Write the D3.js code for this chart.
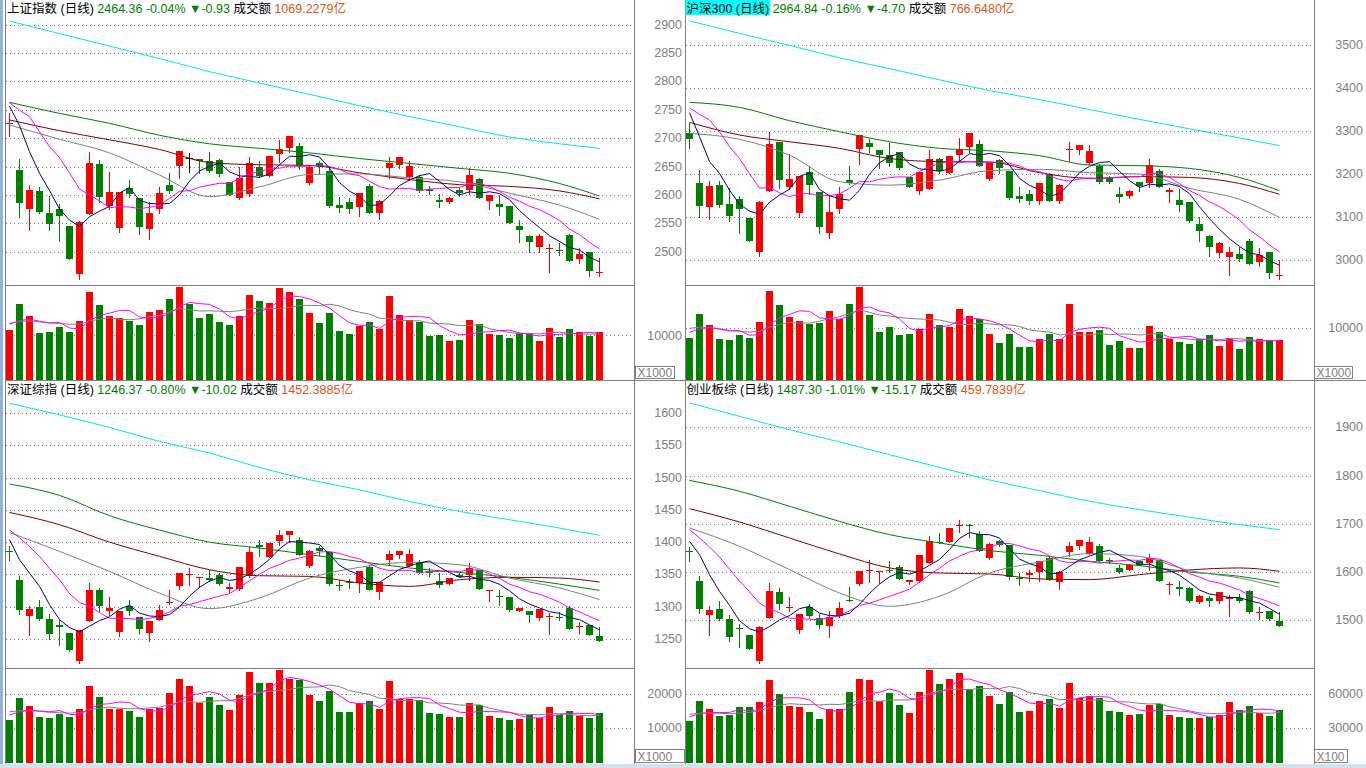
<!DOCTYPE html>
<html><head><meta charset="utf-8">
<script src="https://cdn.jsdelivr.net/npm/d3@7"></script>
<style>body{margin:0;background:#fff;overflow:hidden}svg{display:block}</style>
</head><body><svg id="c" width="1366" height="768"></svg>
<script>
// ---------------- DATA ----------------
const maIdx = [0,5,10,15,20,25,30,35,40,45,50,55,59];

// 上证指数  [open, high, low, close]
const shCandles = [
[2726,2743.5,2703.6,2726.5],[2643.8,2663,2561.6,2585],[2575,2617.4,2538,2608.6],[2606.8,2614.4,2567.5,2570.4],
[2567.5,2598,2538,2548],[2574.5,2583.9,2519.4,2563.4],[2545,2545,2486.5,2487.7],[2460.7,2554,2451.3,2552.8],
[2567,2676,2567,2656],[2654,2661,2588,2597],[2581,2641,2576,2605],[2542,2605.5,2534,2605],
[2611.5,2627,2597,2601],[2594,2595,2531,2544],[2540.5,2588,2522,2569],[2574.5,2614.4,2567.5,2602.7],
[2616.8,2639,2603.9,2606.8],[2651.4,2677,2630,2677],[2665.5,2673,2641,2665.5],[2662.6,2663,2638,2659],
[2660,2676,2641,2642.6],[2661.4,2662.6,2633.8,2636.7],[2622,2622,2599.8,2599.8],[2595,2649.6,2592,2629],
[2601.5,2666,2598,2655.5],[2649.6,2659.6,2632,2633],[2633.8,2668.4,2633.8,2668.4],[2671.4,2696.6,2658.5,2680],
[2683,2703.6,2676,2703.6],[2686,2690.7,2645,2652],[2621.5,2652.6,2619.7,2649.6],[2655.5,2659.6,2636.7,2648.5],
[2642,2646.7,2579,2581],[2582,2595.6,2570.4,2577.5],[2586.9,2594,2568.7,2575.7],[2578,2602.7,2563.4,2602.7],
[2615.6,2619,2569,2569],[2567.5,2591,2557,2589],[2647.9,2666,2630,2655.5],[2652.6,2666,2646.7,2666],
[2632,2660,2626,2651.4],[2632,2635,2604.5,2607.4],[2609.7,2615.6,2601,2607.4],[2591,2601,2578,2586.9],
[2588,2597,2585,2594],[2608.6,2613,2598,2603.9],[2608.6,2646.7,2601,2635],[2628,2629,2595,2595],
[2589.8,2599.8,2575,2599.8],[2584,2599.8,2564.6,2578],[2580.4,2580.4,2551,2551],[2545,2555.7,2517.6,2538],
[2527.6,2529,2500,2517.6],[2508.8,2530.5,2500,2528],[2505,2513.5,2464.8,2506],[2503,2515.8,2494,2501],
[2529,2532,2484,2484],[2486.5,2505.9,2480.6,2496],[2498.8,2498.8,2457,2465.29],[2463.5,2489.4,2457,2464.36]];
const shPrevClose = [2711,2726,2837,2808,2758,2755,2839,2760,2700];
const shVol = [11185,17001,14317,10514,10738,11856,10738,13198,19686,16778,14317,13869,13198,12304,15212,15659,18120,20804,17001,13869,
14764,12975,12304,14317,19015,17672,17225,20580,19686,18120,14988,12751,14988,10962,10290,12080,12975,11409,18791,14540,
13422,12975,9843,10067,8724,8948,13422,12527,10290,10067,9395,10514,10514,8724,11632,9619,11409,10738,9843,10738];
const shPrevVol = [12950,12880,12900,12860,12910,12800,12760,12790,12765];
const shMA20  = [2723,2698,2674,2635,2597,2614,2636,2637,2630,2623,2603,2582,2557];
const shMA60  = [2732,2713,2697,2680,2657,2653,2652,2639,2627,2618,2615,2607,2593];
const shMA120 = [2763,2743.5,2726,2705,2690,2682,2674,2664,2655.5,2646.7,2638,2620,2598];
const shMA250 = [2906,2884,2862,2840,2817,2797,2777,2757,2738,2720,2702,2690,2682];
const shTicks = [2500,2550,2600,2650,2700,2750,2800,2850,2900];
const shVolTicks = [10000];

// 沪深300
const hsCandles = [
[3296,3318,3260,3282],[3180,3209,3101,3126],[3124,3184,3096,3172],[3174,3184,3122.5,3129],
[3130,3167,3091.5,3103],[3142,3149,3063.6,3119],[3098,3098,3045,3045],[3019,3137,3010,3135],
[3161,3298,3161,3270],[3274,3274,3167,3185],[3170.5,3246.5,3166,3188],[3110,3195,3100,3195],
[3204.7,3218.6,3153.5,3175],[3158,3158,3063.6,3077.5],[3063.6,3149,3052,3111.6],[3117.8,3169,3108.5,3153.5],
[3186,3218.6,3176.7,3178],[3259,3290.7,3224,3290.7],[3271,3280.6,3252,3263.6],[3256,3256,3214.7,3245],
[3243.4,3271,3219,3224.8],[3251,3251,3211,3214.7],[3192,3192,3169,3169],[3161,3205,3153.5,3205],
[3165,3256,3165,3236],[3234,3238,3201.6,3207],[3203,3242,3203,3242],[3244,3284.5,3232.6,3257],
[3262,3294.6,3252,3294.6],[3269,3279,3219.4,3219.4],[3188,3227,3186,3227],[3232.6,3234,3201.6,3214.7],
[3207.8,3207.8,3141,3145],[3149,3169,3134,3142.6],[3153.5,3163,3129.5,3138],[3138,3178,3129.5,3178],
[3199,3203,3138,3138],[3138,3176,3133,3173.6],[3256.6,3273.6,3230,3258],[3256.6,3266.7,3245.7,3266.7],
[3226,3266.7,3223,3253.5],[3218.6,3223,3178,3182],[3190,3196,3178,3182],[3153.5,3169,3135.6,3145.7],
[3149.6,3163,3145,3160.5],[3182,3182,3161,3172.9],[3180,3235,3170.5,3221],[3207,3211,3169,3169],
[3159,3166.7,3135.6,3162.8],[3139.5,3164,3114.7,3128],[3135.7,3135.7,3089,3090.7],[3083.7,3099,3045,3068],
[3055.8,3057,3010,3031],[3017,3041.9,3007.7,3038.8],[3007.7,3031,2965,3017.8],[3014,3031,2998.5,3002.3],
[3045,3048,2990.7,2990.7],[2996,3027,2986,3011.6],[3018.6,3018.6,2958,2969.54],[2963.6,3000,2955,2964.84]];
const hsPrevClose = [3278,3304,3405,3447,3393,3404,3463.5,3264.5,3299];
const hsVol = [8094,12683,10580,7839,7648,8604,8094,11153,17080,14404,12046,11344,10771,10962,13256,11727,14595,17845,12492,9178,
10134,8667,8859,9815,12683,10516,10197,13639,12300,11663,8859,7074,8859,6373,6373,7903,8859,7839,14595,9241,
9241,9560,6755,7520,6182,6182,10388,9241,7903,7329,6947,7839,8667,6564,8094,5990,8285,7903,7648,7584];
const hsPrevVol = [10700,10600,10680,10620,10650,9400,9350,9390,9366];
const hsMA20  = [3294.6,3280.6,3244,3182,3174,3186,3207.8,3211,3203,3200,3166.7,3141,3099];
const hsMA60  = [3320,3290.7,3275,3259.7,3236,3228.7,3228,3203,3190,3194,3192,3178,3152.7];
const hsMA120 = [3366.7,3355,3324,3298.4,3275,3259.7,3254,3242.6,3221,3219.4,3213,3192,3161];
const hsMA250 = [3556,3527,3499,3470,3445,3419,3394,3373,3350,3327,3305,3284,3266];
const hsTicks = [3000,3100,3200,3300,3400,3500];
const hsVolTicks = [10000];

// 深证综指
const szCandles = [
[1387,1393.4,1372.8,1384.7],[1341.8,1347,1288.7,1295.4],[1286,1301.6,1255.7,1296.4],[1299,1309.9,1280,1281.5],
[1281,1289,1250.5,1258.3],[1271,1280,1241,1268.6],[1259.3,1259.3,1232,1233.5],[1216.5,1264.5,1212.8,1263.4],
[1277.3,1336.7,1277.3,1325.3],[1326.4,1329,1293.9,1301.6],[1293.9,1315,1287.7,1298],[1260.8,1292.8,1255,1292.8],
[1300.6,1311,1287.7,1292.8],[1284,1284,1259.3,1266],[1259.3,1278.4,1246.4,1278.4],[1280,1302,1280,1294.4],
[1305.7,1325.3,1304.7,1307.3],[1331.5,1352,1327.4,1352],[1348.6,1360,1334,1350.6],[1344.4,1345.5,1330,1345.5],
[1344.4,1357.3,1340,1341.8],[1348.6,1352,1334,1335.7],[1328,1336.7,1322.8,1330],[1328,1361.5,1325.3,1361.5],
[1347,1392,1345.5,1384.7],[1396,1403.8,1378,1391.9],[1377,1399,1377,1399],[1401,1419,1396,1411.5],
[1410.5,1417.7,1400,1417.7],[1404,1407.4,1379.5,1379.5],[1363.5,1388.3,1361.5,1385.7],[1391,1393.4,1380.5,1387],
[1384.7,1384.7,1333,1335.7],[1334,1341.8,1326.4,1332],[1338.2,1342.9,1329,1336.7],[1336.7,1355.8,1322.8,1355.8],
[1361,1365,1326.4,1326.4],[1322.8,1338.2,1312.4,1338.2],[1372.8,1386.7,1365,1381.6],[1379.5,1387,1375.5,1387],
[1363.5,1389.3,1363.5,1381.6],[1370,1372.6,1352,1352],[1354.7,1360,1347,1352],[1340.3,1352,1330,1334],
[1335.7,1344.4,1335.7,1344.4],[1349.6,1352,1345.5,1345.5],[1349.6,1367.6,1341.8,1360],[1357.3,1357.3,1328,1328],
[1323.8,1325.3,1309.3,1325.3],[1316,1326.4,1303,1314.5],[1315,1315,1294,1295.4],[1292.8,1298,1292.8,1298],
[1292.8,1294,1275.8,1286.6],[1282.5,1296.4,1280,1296.4],[1283.5,1290,1257.7,1285],[1284.6,1291.3,1280,1282.5],
[1298,1300.6,1266,1266],[1268,1276.3,1259.3,1269.6],[1272.2,1272.2,1256,1256.39],[1254,1268,1246.37,1246.37]];
const szPrevClose = [1420,1430,1435,1440,1446,1450.4,1400.4,1384,1399.5];
const szVol = [12418,18831,16499,13292,13001,14254,13292,15624,22329,19122,15624,15624,15041,13292,15624,16003,20288,24369,22329,17373,
19122,16790,15333,19705,26410,23203,23203,26993,24369,24078,19705,17956,20871,14750,14750,17373,17956,15624,23786,18539,
18539,18248,14458,14167,13292,13292,17373,16790,13584,13001,12418,12709,13875,13001,16207,13875,15041,13584,13001,14458];
const szPrevVol = [15850,15760,15800,15770,15815,14260,14200,14250,14247];
const szMA20  = [1415,1385.7,1354.7,1321,1297,1313.5,1344.4,1361,1368.7,1365,1344.4,1329,1311];
const szMA60  = [1446,1427,1400,1378,1357.3,1348,1347,1336.7,1331.5,1341.8,1345.5,1344.4,1338.2];
const szMA120 = [1490,1472.4,1441,1418.7,1400,1390.9,1380.5,1370,1360,1353,1345.5,1335,1325.3];
const szMA250 = [1615,1597,1577.6,1556,1538,1515.7,1496.6,1481,1463,1447.6,1434.7,1421.8,1410.5];
const szTicks = [1250,1300,1350,1400,1450,1500,1550,1600];
const szVolTicks = [10000,20000];

// 创业板综
const cyCandles = [
[1643,1651.3,1623.7,1641],[1580.8,1591.2,1515.2,1524.2],[1511.7,1529,1470.3,1520.7],[1523.5,1539.4,1501.4,1503.5],
[1502.8,1511.7,1457.9,1465.5],[1484,1492.4,1444.7,1482],[1470.3,1470.3,1441.3,1441.3],[1416.4,1487.6,1411.6,1486.2],
[1504.8,1577.4,1504.8,1560],[1558.7,1567,1524.2,1533.9],[1525.6,1548.4,1518.7,1527.6],[1480.7,1513,1473.7,1513],
[1527,1533.9,1504.8,1509.7],[1504.8,1513.8,1484,1491],[1489,1518.7,1464.8,1507],[1509.7,1538,1507.7,1525.6],
[1542.8,1569,1540.8,1540.8],[1576,1601.6,1572.5,1601.6],[1601.6,1624.4,1578.8,1603.6],[1601.6,1603,1577.4,1603],
[1605,1622.3,1600.2,1601.6],[1610.5,1614,1586.4,1586.4],[1578.8,1584.3,1576,1584.3],[1582.2,1634.7,1579.4,1634.7],
[1618.8,1674,1618.8,1663.7],[1662.3,1681,1660.3,1660.3],[1661.7,1691.4,1661.7,1691.4],[1696.2,1707.3,1682.4,1698.3],
[1697,1700.3,1672,1694.8],[1679,1684.5,1644.4,1644.4],[1629,1660.3,1627.8,1658.2],[1663.7,1667.1,1653.4,1656.8],
[1656.8,1656.8,1586.4,1589],[1587.7,1598,1574,1585.7],[1594.6,1605,1582.2,1598],[1599.5,1623.7,1582.2,1623.7],
[1629,1632.6,1584.3,1584.3],[1578.8,1601.6,1565.6,1599.5],[1641,1661.7,1632.6,1653.4],[1653.4,1665.8,1648.5,1665.8],
[1637.5,1672,1637.5,1662.3],[1653.4,1658.2,1622.3,1622.3],[1625.7,1629,1618.8,1622.3],[1608.5,1614,1598,1600.2],
[1605,1616.8,1605,1615.4],[1623.7,1623.7,1614,1615.4],[1618.8,1637.5,1605,1629],[1625.7,1625.7,1580.8,1580.8],
[1574,1579.4,1555.3,1576],[1568.4,1580.8,1551.8,1565.6],[1567,1568.4,1538,1540.8],[1537.3,1551.8,1535.9,1549.7],
[1546.3,1549.7,1529,1540.8],[1539.4,1558,1536,1558],[1544.2,1553.2,1508.3,1547.7],[1546.3,1554.6,1538,1539.4],
[1560,1562.2,1515.2,1516.6],[1514.5,1527,1503.5,1516.6],[1518.7,1520,1501.4,1502.47],[1499.3,1517.3,1487.3,1487.3]];
const cyPrevClose = [1700,1705,1712,1718,1726.5,1662.7,1727.7,1676.5,1610.6];
const cyVol = [36383,53875,46879,40756,41631,48628,48628,53001,72242,59998,49502,48628,44255,38133,46879,46879,61747,73117,72242,53875,
60872,50377,43380,61747,80988,68744,73117,78364,64371,66994,58248,51252,61747,44255,45129,53875,55625,47753,69618,56499,
58248,56499,45129,44255,41631,42506,50377,51252,41631,39882,39007,39007,39882,41631,53001,46004,49502,43380,40756,46004];
const cyPrevVol = [44400,44250,44300,44380,44310,41100,41050,41120,41106];
const cyMA20  = [1691.4,1653.4,1605,1556.6,1529,1549.7,1598,1620.9,1638.2,1632.6,1603,1587.7,1568.4];
const cyMA60  = [1731.4,1703.8,1670.6,1637.5,1608.5,1598,1596,1585.7,1584.3,1594.6,1604.3,1608.5,1601.6];
const cyMA120 = [1790,1767.4,1736.3,1705,1677.5,1660.3,1644.4,1634.7,1622.3,1613.3,1600,1591.2,1577.4];
const cyMA250 = [1950.4,1922.8,1895,1869.6,1843.3,1817,1791,1768.7,1746.6,1729.4,1713.5,1698.3,1688];
const cyTicks = [1500,1600,1700,1800,1900];
const cyVolTicks = [30000,60000];

// titles
const shTitle = [["上证指数 (日线)","#000"],["2464.36 -0.04%","#008000"],["▼-0.93","#008000"],["成交额","#000"],["1069.2279亿","#e0561a"]];
const hsTitle = [["沪深300 (日线)","#000"],["2964.84 -0.16%","#008000"],["▼-4.70","#008000"],["成交额","#000"],["766.6480亿","#e0561a"]];
const szTitle = [["深证综指 (日线)","#000"],["1246.37 -0.80%","#008000"],["▼-10.02","#008000"],["成交额","#000"],["1452.3885亿","#e0561a"]];
const cyTitle = [["创业板综 (日线)","#000"],["1487.30 -1.01%","#008000"],["▼-15.17","#008000"],["成交额","#000"],["459.7839亿","#e0561a"]];

// ---------------- DRAW ----------------
const svg = d3.select('#c');
const FONT = '"Liberation Sans", Arial, "Noto Sans CJK SC", sans-serif';
const RED = '#ff0000', GREEN = '#008000', GRID = '#808080';
const COL = {ma5:'#000080', ma10:'#ff00ff', ma20:'#808080', ma60:'#800000', ma120:'#008000', ma250:'#00e4f2'};

function movAvg(prev, vals, n){
  const all = prev.concat(vals), k = prev.length;
  return vals.map((_, i) => d3.mean(all.slice(i + k - n + 1, i + k + 1)));
}

// frame
svg.append('rect').attr('x',0).attr('y',0).attr('width',1366).attr('height',768).attr('fill','#fff');
svg.append('rect').attr('x',0).attr('y',0).attr('width',3).attr('height',768).attr('fill','#93b3d9');
svg.append('rect').attr('x',0).attr('y',764).attr('width',1366).attr('height',4).attr('fill','#d6dfea');
const frame = svg.append('g').attr('stroke',GRID).attr('shape-rendering','crispEdges');
[5.5, 634.5, 685.5, 1314.5].forEach(xv => frame.append('line').attr('x1',xv).attr('x2',xv).attr('y1',0).attr('y2',764));
[[5,634,285.5],[685,1314,285.5],[5,1366,380.5],[5,634,668.5],[685,1314,668.5]].forEach(([a,b,yv]) =>
  frame.append('line').attr('x1',a).attr('x2',b).attr('y1',yv).attr('y2',yv));

function drawPanel(p){
  const g = svg.append('g');
  const x = d3.scaleLinear().domain([0,59]).range([p.cx0, p.cx0 + 590]);
  const t = p.ticks;
  const y = d3.scaleLinear().domain([t[0], t[t.length-1]]).range([p.yLo, p.yHi]);
  const yv = d3.scaleLinear().domain([0, p.volRef]).range([p.vBase, p.vRefY]);

  // grid
  const grid = g.append('g').attr('stroke',GRID).attr('stroke-dasharray','1,3').attr('shape-rendering','crispEdges');
  t.forEach(v => { const yy = Math.round(y(v)) + 0.5;
    grid.append('line').attr('x1',p.px0).attr('x2',p.px1).attr('y1',yy).attr('y2',yy); });
  p.volTicks.forEach(v => { const yy = Math.round(yv(v)) + 0.5;
    grid.append('line').attr('x1',p.px0).attr('x2',p.px1).attr('y1',yy).attr('y2',yy); });

  // axis labels
  const lab = g.append('g').attr('fill',GRID).attr('font-family',FONT).attr('font-size',12.5)
     .attr('text-anchor','end').attr('dominant-baseline','central');
  t.forEach(v => lab.append('text').attr('x',p.labX).attr('y',y(v)).text(v));
  p.volTicks.forEach(v => lab.append('text').attr('x',p.labX).attr('y',yv(v) + p.volLabDy).text(v));

  // unit box
  g.append('rect').attr('x',p.unit[0]).attr('y',p.unit[1]).attr('width',p.unit[2]).attr('height',p.unit[3])
    .attr('fill','#fff').attr('stroke',GRID).attr('shape-rendering','crispEdges');
  g.append('text').attr('x',p.unit[0] + 2).attr('y',p.unit[1] + p.unit[3] - 2).attr('fill',GRID)
    .attr('font-family',FONT).attr('font-size',12).text(p.unitText);

  // candles
  const cg = g.append('g').attr('shape-rendering','crispEdges');
  p.candles.forEach((d, i) => {
    const [o,h,l,c] = d;
    const col = c > o ? RED : (c < o ? GREEN : '#000');
    const cx = x(i);
    cg.append('line').attr('x1',cx).attr('x2',cx).attr('y1',Math.round(y(h))).attr('y2',Math.round(y(l)) + 1).attr('stroke',col);
    const yt = Math.round(y(Math.max(o,c))), yb = Math.round(y(Math.min(o,c)));
    cg.append('rect').attr('x',cx - 3.5).attr('y',yt).attr('width',7).attr('height',Math.max(1, yb - yt)).attr('fill',col);
  });

  // volume bars
  p.vol.forEach((v, i) => {
    const [o,,,c] = p.candles[i];
    const prevC = i > 0 ? p.candles[i-1][3] : p.prevClose[p.prevClose.length-1];
    const up = c > o || (c === o && c >= prevC);
    const yt = Math.round(yv(v));
    cg.append('rect').attr('x',x(i) - 3.5).attr('y',yt).attr('width',7).attr('height',Math.round(p.vBase) - yt)
      .attr('fill', up ? RED : GREEN);
  });

  // moving averages
  const closes = p.candles.map(d => d[3]);
  const lineI = d3.line().x((d,i) => x(i)).y(d => y(d));
  const lineS = d3.line().x((d,k) => x(maIdx[k])).y(d => y(d)).curve(d3.curveMonotoneX);
  const ml = g.append('g').attr('fill','none').attr('stroke-width',1);
  ml.append('path').attr('d',lineS(p.ma250)).attr('stroke',COL.ma250);
  ml.append('path').attr('d',lineS(p.ma120)).attr('stroke',COL.ma120);
  ml.append('path').attr('d',lineS(p.ma60)).attr('stroke',COL.ma60);
  ml.append('path').attr('d',lineS(p.ma20)).attr('stroke',COL.ma20);
  ml.append('path').attr('d',lineI(movAvg(p.prevClose, closes, 10))).attr('stroke',COL.ma10);
  ml.append('path').attr('d',lineI(movAvg(p.prevClose, closes, 5))).attr('stroke',COL.ma5);
  const lineV = d3.line().x((d,i) => x(i)).y(d => yv(d));
  ml.append('path').attr('d',lineV(movAvg(p.prevVol, p.vol, 10))).attr('stroke',GRID);
  ml.append('path').attr('d',lineV(movAvg(p.prevVol, p.vol, 5))).attr('stroke','#ff00ff');

  // title
  const tg = g.append('g');
  if (p.highlight) tg.append('rect').attr('class','hl').attr('fill','#00ffff');
  const tt = tg.append('text').attr('x',p.titleX).attr('y',p.titleY).attr('font-family',FONT).attr('font-size',12.5);
  p.title.forEach((s, k) => tt.append('tspan').attr('fill',s[1]).text((k ? ' ' : '') + s[0]));
  if (p.highlight) {
    const w = tt.select('tspan').node().getComputedTextLength();
    tg.select('rect.hl').attr('x',p.titleX - 1).attr('y',p.titleY - 12.5).attr('width',w + 2).attr('height',15);
  }
}

drawPanel({candles:shCandles, prevClose:shPrevClose, vol:shVol, prevVol:shPrevVol,
  ma20:shMA20, ma60:shMA60, ma120:shMA120, ma250:shMA250, ticks:shTicks, volTicks:shVolTicks, title:shTitle,
  cx0:9.5, px0:6, px1:634, yLo:251.7, yHi:24.5, volRef:10000, vBase:380, vRefY:335.3, labX:682, volLabDy:1,
  unit:[635.5,366.5,39,12], unitText:'X1000', titleX:7, titleY:12.5});
drawPanel({candles:hsCandles, prevClose:hsPrevClose, vol:hsVol, prevVol:hsPrevVol,
  ma20:hsMA20, ma60:hsMA60, ma120:hsMA120, ma250:hsMA250, ticks:hsTicks, volTicks:hsVolTicks, title:hsTitle,
  cx0:689.5, px0:686, px1:1314, yLo:260, yHi:45, volRef:10000, vBase:380, vRefY:327.7, labX:1363, volLabDy:0,
  unit:[1314.5,366.5,38,12], unitText:'X1000', titleX:686.5, titleY:12.5, highlight:true});
drawPanel({candles:szCandles, prevClose:szPrevClose, vol:szVol, prevVol:szPrevVol,
  ma20:szMA20, ma60:szMA60, ma120:szMA120, ma250:szMA250, ticks:szTicks, volTicks:szVolTicks, title:szTitle,
  cx0:9.5, px0:6, px1:634, yLo:639, yHi:413, volRef:10000, vBase:762.6, vRefY:728.3, labX:682, volLabDy:0,
  unit:[635.5,749.5,49,13], unitText:'X1000', titleX:7, titleY:393.5});
drawPanel({candles:cyCandles, prevClose:cyPrevClose, vol:cyVol, prevVol:cyPrevVol,
  ma20:cyMA20, ma60:cyMA60, ma120:cyMA120, ma250:cyMA250, ticks:cyTicks, volTicks:cyVolTicks, title:cyTitle,
  cx0:689.5, px0:686, px1:1314, yLo:620.3, yHi:427.3, volRef:30000, vBase:762.6, vRefY:728.3, labX:1363, volLabDy:0,
  unit:[1314.5,749.5,33,13], unitText:'X100', titleX:686.5, titleY:393.5});
</script>
</body></html>
